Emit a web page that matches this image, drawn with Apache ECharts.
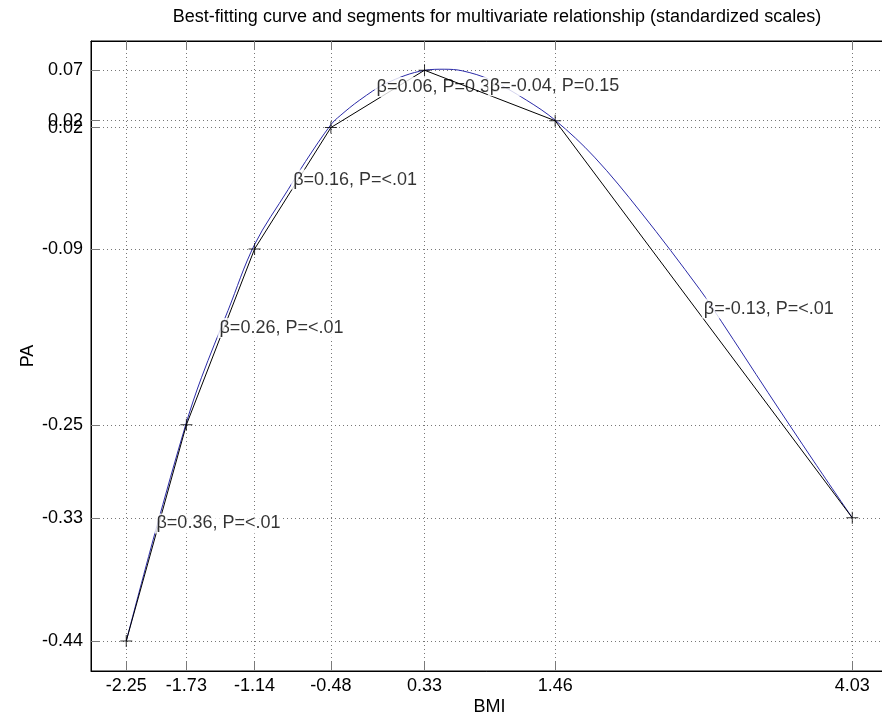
<!DOCTYPE html>
<html><head><meta charset="utf-8">
<script src="https://cdn.jsdelivr.net/npm/echarts@6/dist/echarts.min.js"></script>
<style>html,body{margin:0;padding:0;background:#fff}#c{width:882px;height:716px}</style>
</head><body><div id="c"></div>
<script>
// ---- data ----
const chartTitle = 'Best-fitting curve and segments for multivariate relationship (standardized scales)';
const xName = 'BMI';
const yName = 'PA';
// segment break points (also the axis tick positions)
const segX = [-2.25, -1.73, -1.14, -0.48, 0.33, 1.46, 4.03];
const segY = [-0.44, -0.247, -0.09, 0.0184, 0.0696, 0.0245, -0.33];
// best-fitting curve
const curveX = [-2.25, -2.0, -1.73, -1.6, -1.37, -1.14, -0.85, -0.70, -0.48, -0.40, -0.23, 0.0, 0.33, 0.5, 0.66, 0.9, 1.21, 1.46, 1.8, 2.2, 2.71, 2.9, 3.3, 3.7, 4.03];
const curveY = [-0.44, -0.343, -0.245, -0.205, -0.145, -0.086, -0.037, -0.012, 0.021, 0.029, 0.043, 0.058, 0.0695, 0.0705, 0.069, 0.061, 0.043, 0.025, -0.008, -0.057, -0.126, -0.155, -0.218, -0.280, -0.330];
// segment annotations
const segLabels = ['\u03b2=0.36, P=<.01', '\u03b2=0.26, P=<.01', '\u03b2=0.16, P=<.01', '\u03b2=0.06, P=0.38', '\u03b2=-0.04, P=0.15', '\u03b2=-0.13, P=<.01'];
// annotation anchors (left-middle of each text, in data units)
const labelAnchorX = [-2.01, -1.465, -0.828, -0.106, 0.873, 2.724];
const labelAnchorY = [-0.335, -0.1605, -0.028, 0.0546, 0.0553, -0.1432];

// ---- chart ----
const FONT = '"Liberation Sans", Arial, Helvetica, sans-serif';
const FS = 18;
const X_MIN = -2.555, X_MAX = 4.339, Y_MIN = -0.4668, Y_MAX = 0.0957;
const chart = echarts.init(document.getElementById('c'), null, {renderer: 'canvas'});

const series = [];
series.push({
  type: 'line', name: 'curve', silent: true, animation: false, z: 1,
  data: curveX.map((x, i) => [x, curveY[i]]),
  smooth: 0.35, showSymbol: false,
  lineStyle: {color: '#2a2aa8', width: 1}
});
for (let i = 0; i < segX.length - 1; i++) {
  series.push({
    type: 'line', silent: true, animation: false, z: 2 + 2 * i,
    data: [[segX[i], segY[i]], [segX[i + 1], segY[i + 1]]],
    showSymbol: false,
    lineStyle: {color: '#000', width: 1}
  });
  series.push({
    type: 'scatter', silent: true, animation: false, z: 3 + 2 * i,
    data: [[labelAnchorX[i], labelAnchorY[i]]],
    symbolSize: 1, itemStyle: {color: 'rgba(0,0,0,0)'},
    label: {
      show: true, position: 'right', distance: 0,
      formatter: segLabels[i],
      backgroundColor: '#fff', padding: [1, 2],
      color: '#000', fontSize: FS, fontFamily: FONT
    }
  });
}
series.push({
  type: 'scatter', silent: true, animation: false, z: 40,
  data: segX.map((x, i) => [x, segY[i]]),
  symbol: 'path://M0,5.5L12,5.5L12,6.5L0,6.5Z M5.5,0L6.5,0L6.5,12L5.5,12Z',
  symbolSize: 12, itemStyle: {color: '#000'}
});

const dotted = {show: true, lineStyle: {color: '#777', width: 1, type: [1, 3]}};
chart.setOption({
  animation: false,
  backgroundColor: '#fff',
  graphic: [{
    type: 'text', x: 497, y: 17,
    style: {text: chartTitle, fontSize: FS, fontFamily: FONT, fill: '#000', align: 'center', verticalAlign: 'middle'}
  }],
  grid: {left: 91, right: -6, top: 41, bottom: 45, show: true, borderColor: '#000', borderWidth: 1, outerBoundsMode: 'none', containLabel: false},
  xAxis: [{
    type: 'value', min: X_MIN, max: X_MAX, position: 'bottom',
    name: xName, nameLocation: 'middle', nameGap: 27, nameMoveOverlap: false,
    nameTextStyle: {fontSize: FS, fontFamily: FONT, color: '#000'},
    axisLine: {show: true, onZero: false, lineStyle: {color: '#000', width: 1}},
    axisTick: {show: true, inside: true, length: 9, customValues: segX, lineStyle: {color: '#7a7a7a'}},
    axisLabel: {show: true, customValues: segX, margin: 6, fontSize: FS, fontFamily: FONT, color: '#000', formatter: v => v.toFixed(2)},
    splitLine: dotted
  }, {
    type: 'value', min: X_MIN, max: X_MAX, position: 'top',
    axisLine: {show: true, onZero: false, lineStyle: {color: '#000', width: 1}},
    axisTick: {show: true, inside: true, length: 9, customValues: segX, lineStyle: {color: '#7a7a7a'}},
    axisLabel: {show: false}, splitLine: {show: false}
  }],
  yAxis: [{
    type: 'value', min: Y_MIN, max: Y_MAX,
    name: yName, nameLocation: 'middle', nameGap: 54, nameMoveOverlap: false,
    nameTextStyle: {fontSize: FS, fontFamily: FONT, color: '#000'},
    axisLine: {show: true, onZero: false, lineStyle: {color: '#000', width: 1}},
    axisTick: {show: true, inside: true, length: 9, customValues: segY, lineStyle: {color: '#7a7a7a'}},
    axisLabel: {show: true, customValues: segY, margin: 8, fontSize: FS, fontFamily: FONT, color: '#000', formatter: v => v.toFixed(2), hideOverlap: false},
    splitLine: dotted
  }],
  series: series
});
</script></body></html>
